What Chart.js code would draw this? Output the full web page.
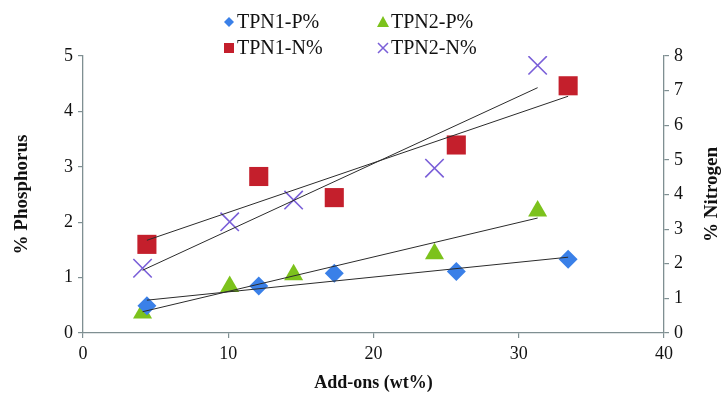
<!DOCTYPE html>
<html>
<head>
<meta charset="utf-8">
<script src="https://cdn.jsdelivr.net/npm/chart.js@4/dist/chart.umd.min.js"></script>
<style>
  html, body { margin: 0; padding: 0; background: #ffffff; }
  #wrap { width: 726px; height: 396px; position: relative; }
</style>
</head>
<body>
<div id="wrap"><canvas id="c" width="726" height="396"></canvas></div>
<script>
// Add-on loadings (wt%) for the two formulations
const tpn1AddOns = [4.4, 12.1, 17.3, 25.7, 33.4];
const tpn2AddOns = [4.1, 10.1, 14.5, 24.2, 31.3];

// Phosphorus content (%), left axis
const tpn1Phosphorus = [0.49, 0.85, 1.08, 1.11, 1.33];
const tpn2Phosphorus = [0.36, 0.84, 1.05, 1.43, 2.20];

// Nitrogen content (%), right axis
const tpn1Nitrogen = [2.56, 4.52, 3.91, 5.43, 7.14];
const tpn2Nitrogen = [1.87, 3.21, 3.84, 4.76, 7.73];

// Axis tick ranges
const xTicks = [0, 10, 20, 30, 40];
const phosphorusTicks = [0, 1, 2, 3, 4, 5];
const nitrogenTicks = [0, 1, 2, 3, 4, 5, 6, 7, 8];

const seriesNames = ['TPN1-P%', 'TPN2-P%', 'TPN1-N%', 'TPN2-N%'];

const BLUE = '#3a80e8', GREEN = '#7cc21c', RED = '#c41f2c', PURPLE = '#7a5fd8';
const AXIS = '#7f8f92';
const SERIF = "'Liberation Serif', 'DejaVu Serif', serif";

function points(xs, ys) { return xs.map((x, i) => ({ x, y: ys[i] })); }

// Least-squares trend line over the measured range
function trend(xs, ys) {
  const n = xs.length;
  const mx = xs.reduce((a, b) => a + b, 0) / n;
  const my = ys.reduce((a, b) => a + b, 0) / n;
  let sxy = 0, sxx = 0;
  xs.forEach((x, i) => { sxy += (x - mx) * (ys[i] - my); sxx += (x - mx) * (x - mx); });
  const k = sxy / sxx, b = my - k * mx;
  const x0 = Math.min(...xs), x1 = Math.max(...xs);
  return [{ x: x0, y: k * x0 + b }, { x: x1, y: k * x1 + b }];
}

function trendSet(xs, ys, axis) {
  return {
    label: '', data: trend(xs, ys), yAxisID: axis, showLine: true,
    borderColor: '#2b2b2b', borderWidth: 1, pointRadius: 0, pointHoverRadius: 0,
    order: 0
  };
}

const markerSets = [
  { label: seriesNames[0], data: points(tpn1AddOns, tpn1Phosphorus), yAxisID: 'y',
    pointStyle: 'rectRot', pointRadius: 9.5, backgroundColor: BLUE, borderColor: BLUE, borderWidth: 0, order: 1 },
  { label: seriesNames[1], data: points(tpn2AddOns, tpn2Phosphorus), yAxisID: 'y',
    pointStyle: 'triangle', pointRadius: 11, backgroundColor: GREEN, borderColor: GREEN, borderWidth: 0, order: 1 },
  { label: seriesNames[2], data: points(tpn1AddOns, tpn1Nitrogen), yAxisID: 'y1',
    pointStyle: 'rect', pointRadius: 13.5, backgroundColor: RED, borderColor: RED, borderWidth: 0, order: 1 },
  { label: seriesNames[3], data: points(tpn2AddOns, tpn2Nitrogen), yAxisID: 'y1',
    pointStyle: 'crossRot', pointRadius: 13, backgroundColor: PURPLE, borderColor: PURPLE, borderWidth: 1.6, order: 1 }
];

const trendSets = [
  trendSet(tpn1AddOns, tpn1Phosphorus, 'y'),
  trendSet(tpn2AddOns, tpn2Phosphorus, 'y'),
  trendSet(tpn1AddOns, tpn1Nitrogen, 'y1'),
  trendSet(tpn2AddOns, tpn2Nitrogen, 'y1')
];

// Small marker glyphs for the two-column legend
function drawGlyph(ctx, style, color, x, y) {
  ctx.save();
  ctx.fillStyle = color; ctx.strokeStyle = color;
  ctx.beginPath();
  if (style === 'rectRot') {
    ctx.moveTo(x, y - 5); ctx.lineTo(x + 5, y); ctx.lineTo(x, y + 5); ctx.lineTo(x - 5, y); ctx.closePath(); ctx.fill();
  } else if (style === 'triangle') {
    ctx.moveTo(x, y - 6); ctx.lineTo(x + 6, y + 5); ctx.lineTo(x - 6, y + 5); ctx.closePath(); ctx.fill();
  } else if (style === 'rect') {
    ctx.rect(x - 5, y - 5, 10, 10); ctx.fill();
  } else {
    ctx.lineWidth = 1.5;
    ctx.moveTo(x - 5, y - 5); ctx.lineTo(x + 5, y + 5);
    ctx.moveTo(x + 5, y - 5); ctx.lineTo(x - 5, y + 5); ctx.stroke();
  }
  ctx.restore();
}

const decorations = {
  id: 'decorations',
  afterDraw(chart) {
    const ctx = chart.ctx;
    const cols = [229, 383], rows = [22, 48];
    ctx.save();
    ctx.font = '20px ' + SERIF;
    ctx.fillStyle = '#111';
    ctx.textBaseline = 'middle';
    ctx.textAlign = 'left';
    markerSets.forEach((ds, i) => {
      const x = cols[i % 2], y = rows[Math.floor(i / 2)];
      drawGlyph(ctx, ds.pointStyle, ds.backgroundColor, x, y);
      ctx.fillText(ds.label, x + 8, y + 1);
    });
    // axis titles, both reading bottom to top
    ctx.font = 'bold 19px ' + SERIF;
    ctx.textAlign = 'center';
    const midY = (chart.chartArea.top + chart.chartArea.bottom) / 2;
    [[22, '% Phosphorus'], [712, '% Nitrogen']].forEach(([x, t]) => {
      ctx.save();
      ctx.translate(x, midY);
      ctx.rotate(-Math.PI / 2);
      ctx.fillText(t, 0, 0);
      ctx.restore();
    });
    ctx.restore();
  }
};

function tickOpts() {
  return { color: '#111', font: { family: SERIF, size: 18 }, padding: 5 };
}
function gridOpts() {
  return { display: true, drawOnChartArea: false, drawTicks: true, tickLength: 5, color: AXIS, lineWidth: 1.2 };
}

new Chart(document.getElementById('c'), {
  type: 'scatter',
  data: { datasets: [...markerSets, ...trendSets] },
  plugins: [decorations],
  options: {
    responsive: false,
    animation: false,
    events: [],
    layout: { padding: { top: 56, left: 0, right: 0, bottom: 0 } },
    plugins: { legend: { display: false }, tooltip: { enabled: false } },
    scales: {
      x: {
        type: 'linear', min: xTicks[0], max: xTicks[xTicks.length - 1],
        afterBuildTicks(s) { s.ticks = xTicks.map(v => ({ value: v })); },
        afterFit(s) { s.height = 63; },
        ticks: tickOpts(),
        grid: gridOpts(),
        border: { display: true, color: AXIS, width: 1.3 },
        title: { display: true, text: 'Add-ons (wt%)', color: '#111',
                 font: { family: SERIF, size: 18, weight: 'bold' }, padding: { top: 4, bottom: 2 } }
      },
      y: {
        type: 'linear', position: 'left',
        min: phosphorusTicks[0], max: phosphorusTicks[phosphorusTicks.length - 1],
        afterBuildTicks(s) { s.ticks = phosphorusTicks.map(v => ({ value: v })); },
        afterFit(s) { s.width = 83; },
        ticks: tickOpts(),
        grid: gridOpts(),
        border: { display: true, color: AXIS, width: 1.3 }
      },
      y1: {
        type: 'linear', position: 'right',
        min: nitrogenTicks[0], max: nitrogenTicks[nitrogenTicks.length - 1],
        afterBuildTicks(s) { s.ticks = nitrogenTicks.map(v => ({ value: v })); },
        afterFit(s) { s.width = 62; },
        ticks: tickOpts(),
        grid: gridOpts(),
        border: { display: true, color: AXIS, width: 1.3 }
      }
    }
  }
});
</script>
</body>
</html>
